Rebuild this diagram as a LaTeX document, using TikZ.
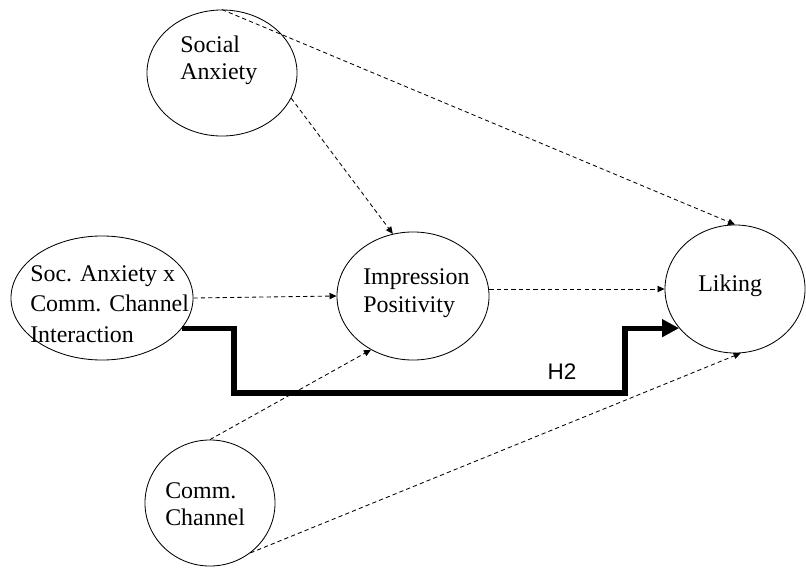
\documentclass[tikz,border=0pt]{standalone}
\usepackage{fontspec}
\setmainfont{Liberation Serif}
\setsansfont{Liberation Sans}
\usetikzlibrary{arrows.meta}
\usetikzlibrary{shapes.geometric}
\usetikzlibrary{positioning}

\begin{document}
\begin{tikzpicture}[x=0.025cm, y=-0.025cm,
>={Triangle[length=5pt,width=4.5pt]},
construct/.style = {ellipse, draw=black, line width=0.6pt, inner sep=0pt},
lbl/.style = {anchor=west, align=left, inner sep=0pt, font=\fontsize{17}{19.5}\selectfont},
path_d/.style = {->, line width=0.6pt, dash pattern=on 3pt off 2.2pt},
path_h/.style = {-{Triangle[length=12pt,width=12pt]}, line width=3.6pt},
hyp/.style = {inner sep=0pt, font=\sffamily\fontsize{16}{18}\selectfont}
]
\useasboundingbox (0,0) rectangle (806,570);

% constructs
\node (SA) [construct, minimum width=3.75cm, minimum height=3.15cm] at (222,73) {};
\node (IA) [construct, minimum width=4.55cm, minimum height=3.1cm] at (102,298) {};
\node (IP) [construct, minimum width=3.8cm, minimum height=3.2cm] at (413,296) {};
\node (LK) [construct, minimum width=3.5cm, minimum height=3.2cm] at (735,289) {};
\node (CC) [construct, minimum width=3.25cm, minimum height=3.15cm] at (210,503) {};

\node (SAt) [lbl] at (180,60) {Social\\Anxiety};
\node (IAt) [lbl, font=\fontsize{17}{21.5}\selectfont] at (30,304) {Soc. Anxiety x\\Comm. Channel\\Interaction};
\node (IPt) [lbl] at (363,293) {Impression\\Positivity};
\node (LKt) [lbl] at (698,286) {Liking};
\node (CCt) [lbl] at (165,504) {Comm.\\Channel};

% dashed paths
\draw[path_d] (SA.north) to (LK.north);
\draw[path_d] (SA.-20) to (IP.108);
\draw[path_d] (IA.east) to (IP.west);
\draw[path_d] (LK.west -| IP.east) to (LK.west);
\draw[path_d] (CC.north) to (IP.232);
\draw[path_d] (CC.-51) to (LK.-85);

% H2
\coordinate (XX) at (234,393);
\coordinate (YY) at (625,393);
%\draw[path_h] (IA.-21) -- (LK.215);
\draw[path_h] (IA.-21) -| (XX) -- (YY) |- (LK.215);
\node (H2) [hyp] at (562,372) {H2};
\end{tikzpicture}
\end{document}
